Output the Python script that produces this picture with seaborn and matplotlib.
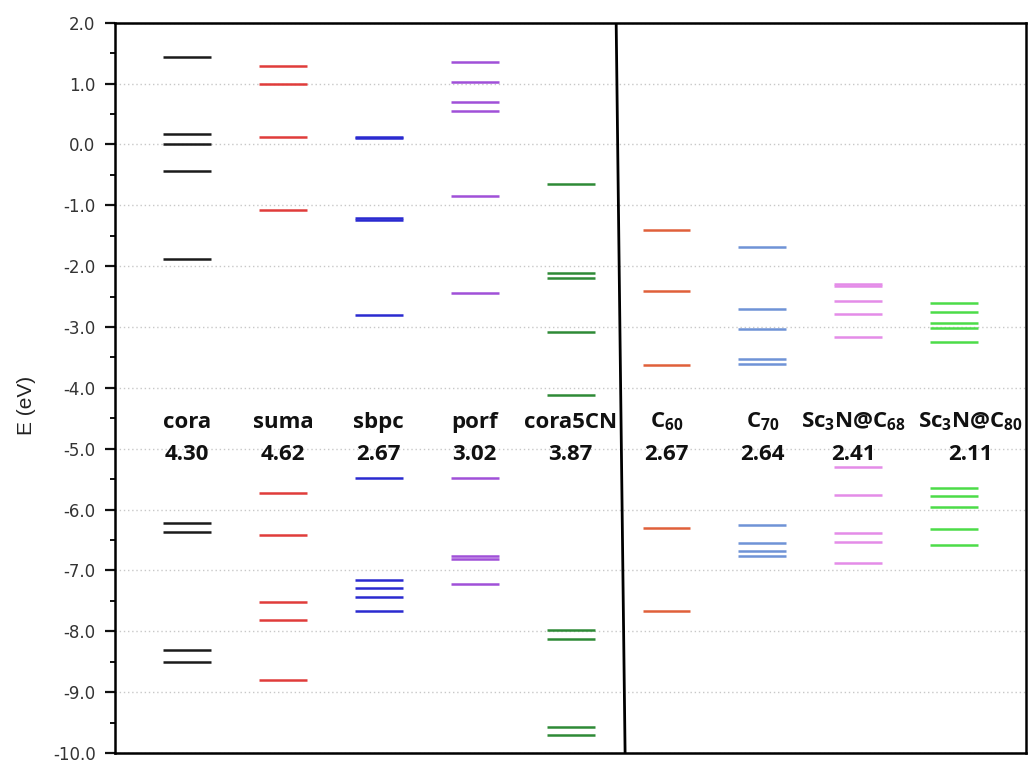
import matplotlib
matplotlib.use("Agg")
import matplotlib.pyplot as plt
from matplotlib.ticker import MultipleLocator, FormatStrFormatter
import seaborn as sns
import pandas as pd

# ---- data ----
molecules = ["cora", "suma", "sbpc", "porf", "cora5CN", "C60", "C70", "Sc3N@C68", "Sc3N@C80"]
names = ["cora", "suma", "sbpc", "porf", "cora5CN", "C$_{60}$", "C$_{70}$",
         "Sc$_3$N@C$_{68}$", "Sc$_3$N@C$_{80}$"]
gaps = ["4.30", "4.62", "2.67", "3.02", "3.87", "2.67", "2.64", "2.41", "2.11"]

cora = [1.44, 0.17, 0.00, -0.43, -1.89, -6.22, -6.37, -8.31, -8.50]
suma = [1.29, 0.99, 0.12, -1.08, -5.72, -6.41, -7.52, -7.82, -8.80]
sbpc = [0.10, 0.13, -1.21, -1.24, -2.80, -5.48, -7.16, -7.29, -7.44, -7.66]
porf = [1.36, 1.03, 0.70, 0.55, -0.85, -2.44, -5.48, -6.76, -6.82, -7.22]
cora5cn = [-0.65, -2.12, -2.19, -3.08, -4.11, -7.98, -8.13, -9.57, -9.70]
c60 = [-1.41, -2.41, -3.63, -6.31, -7.66]
c70 = [-1.69, -2.71, -3.04, -3.53, -3.61, -6.26, -6.55, -6.68, -6.76]
sc3n_c68 = [-2.29, -2.33, -2.58, -2.78, -3.17, -5.30, -5.76, -6.38, -6.53, -6.87]
sc3n_c80 = [-2.60, -2.76, -2.94, -3.02, -3.24, -5.65, -5.78, -5.96, -6.32, -6.59]

levels = [cora, suma, sbpc, porf, cora5cn, c60, c70, sc3n_c68, sc3n_c80]
colors = ["#1a1a1a", "#e03c3a", "#2a2ad0", "#a050d8", "#2e8a36",
          "#e0603a", "#6f93d6", "#e48ce8", "#4cdc48"]

# ---- styling ----
sns.set_theme(style="white")
plt.rcParams["font.family"] = ["DejaVu Sans"]
plt.rcParams["axes.unicode_minus"] = False
plt.rcParams["mathtext.fontset"] = "custom"
plt.rcParams["mathtext.rm"] = "Open Sans:bold"
plt.rcParams["mathtext.it"] = "Open Sans:bold"
plt.rcParams["mathtext.bf"] = "Open Sans:bold"

rows = []
for mol, lv in zip(molecules, levels):
    for e in lv:
        rows.append({"molecule": mol, "E": e})
df = pd.DataFrame(rows)
pos = {m: i for i, m in enumerate(molecules)}
df["x"] = df["molecule"].map(pos)

fig = plt.figure(figsize=(10.28, 7.63), dpi=100)
ax = fig.add_axes([0.1119, 0.0131, 0.9978 - 0.1119, 0.9702 - 0.0131])

half = 0.25
for mol, col in zip(molecules, colors):
    sub = df[df["molecule"] == mol]
    ax.hlines(sub["E"], sub["x"] - half, sub["x"] + half, colors=col, lw=1.8, zorder=3)

# divider
ax.plot([4.568, 4.475], [-10, 2], color="black", lw=2.0, zorder=4, solid_capstyle="butt")

# labels
label_dx = [0, 0, 0, 0, 0, 0, 0, -0.05, 0.17]
for i, (nm, gp) in enumerate(zip(names, gaps)):
    ax.text(i + label_dx[i], -4.655, nm, ha="center", va="baseline",
            fontsize=16, fontweight="bold", family="Open Sans", color="#111111", zorder=5)
    ax.text(i + label_dx[i], -5.18, gp, ha="center", va="baseline",
            fontsize=16, fontweight="bold", family="Open Sans", color="#111111", zorder=5)

ax.set_xlim(-0.751, 8.746)
ax.set_ylim(-10, 2)
ax.set_xticks([])
ax.yaxis.set_major_locator(MultipleLocator(1.0))
ax.yaxis.set_minor_locator(MultipleLocator(0.5))
ax.yaxis.set_major_formatter(FormatStrFormatter("%.1f"))
ax.tick_params(axis="y", which="major", direction="out", length=7, width=1.6,
               labelsize=12, labelcolor="#333333", color="#111111", pad=7, left=True)
ax.tick_params(axis="y", which="minor", direction="out", length=3.5, width=1.4,
               color="#111111", left=True)
ax.grid(True, axis="y", which="major", linestyle=(0, (1, 2)), color="#c8c8c8", lw=1.0, zorder=0)
for s in ax.spines.values():
    s.set_linewidth(1.8)
    s.set_color("black")

fig.text(27 / 1028, 1 - 405 / 763, "E (eV)", rotation=90, ha="center", va="center",
         fontsize=15, family="Liberation Sans", color="#222222")

fig.savefig("out.png", dpi=100)
